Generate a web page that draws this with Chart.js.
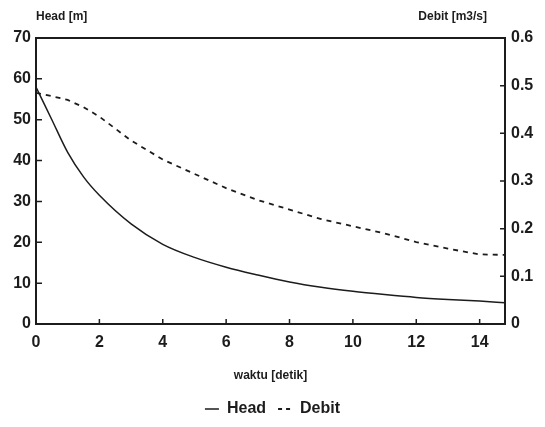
<!DOCTYPE html>
<html>
<head>
<meta charset="utf-8">
<script src="https://cdn.jsdelivr.net/npm/chart.js@4.4.1/dist/chart.umd.min.js"></script>
<style>
  html, body { margin: 0; padding: 0; background: #ffffff; }
  #wrap { width: 545px; height: 427px; }
</style>
</head>
<body>
<div id="wrap"><canvas id="c" width="545" height="427"></canvas></div>
<script>
// time (s)
const waktu = [0, 0.5, 1, 1.5, 2, 3, 4, 5, 6, 7, 8, 9, 10, 11, 12, 13, 14, 14.8];
// head (m)
const head = [58, 50, 42, 36, 31.5, 24.5, 19.5, 16.3, 13.9, 12, 10.3, 9, 8, 7.2, 6.5, 6, 5.6, 5.2];
// discharge (m3/s)
const debit = [0.485, 0.478, 0.47, 0.455, 0.435, 0.385, 0.345, 0.315, 0.285, 0.26, 0.24, 0.22, 0.205, 0.19, 0.172, 0.158, 0.146, 0.145];

const xTicks = [0, 2, 4, 6, 8, 10, 12, 14];
const headTicks = [0, 10, 20, 30, 40, 50, 60, 70];
const debitTicks = [0, 0.1, 0.2, 0.3, 0.4, 0.5, 0.6];

const ink = '#1c1c1c';
const family = '"Liberation Sans", Arial, sans-serif';
const tickFont = { family, size: 16, weight: 'bold' };

const headPts = waktu.map((t, i) => ({ x: t, y: head[i] }));
const debitPts = waktu.map((t, i) => ({ x: t, y: debit[i] }));

// frame, inward tick marks and the two axis captions at the top
const frameAndTicks = {
  id: 'frameAndTicks',
  afterDraw(chart) {
    const { ctx, chartArea: a, scales } = chart;
    ctx.save();
    ctx.strokeStyle = ink;
    ctx.lineWidth = 2;
    ctx.strokeRect(a.left, a.top, a.right - a.left, a.bottom - a.top);
    ctx.lineWidth = 1.5;
    ctx.beginPath();
    xTicks.forEach(v => {
      if (v === 0) return;
      const px = scales.x.getPixelForValue(v);
      ctx.moveTo(px, a.bottom); ctx.lineTo(px, a.bottom - 5);
    });
    headTicks.forEach(v => {
      if (v === 0 || v === 70) return;
      const py = scales.y.getPixelForValue(v);
      ctx.moveTo(a.left, py); ctx.lineTo(a.left + 6, py);
    });
    debitTicks.forEach(v => {
      if (v === 0 || v === 0.6) return;
      const py = scales.y1.getPixelForValue(v);
      ctx.moveTo(a.right, py); ctx.lineTo(a.right - 5, py);
    });
    ctx.stroke();

    ctx.fillStyle = ink;
    ctx.font = 'bold 12px ' + family;
    ctx.textBaseline = 'middle';
    ctx.textAlign = 'left';
    ctx.fillText('Head [m]', a.left, 17);
    ctx.textAlign = 'right';
    ctx.fillText('Debit [m3/s]', a.right - 18, 17);
    ctx.restore();
  }
};

new Chart(document.getElementById('c'), {
  type: 'line',
  data: {
    datasets: [
      {
        label: 'Head',
        data: headPts,
        yAxisID: 'y',
        borderColor: ink,
        backgroundColor: 'rgba(0,0,0,0)',
        borderWidth: 1.5,
        pointRadius: 0,
        tension: 0.4,
        cubicInterpolationMode: 'monotone',
        fill: false
      },
      {
        label: 'Debit',
        data: debitPts,
        yAxisID: 'y1',
        borderColor: ink,
        backgroundColor: 'rgba(0,0,0,0)',
        borderWidth: 1.8,
        borderDash: [5, 5],
        pointRadius: 0,
        tension: 0,
        fill: false
      }
    ]
  },
  options: {
    responsive: false,
    animation: false,
    layout: { padding: { top: 38, left: 0, right: 0, bottom: 0 } },
    plugins: {
      tooltip: { enabled: false },
      legend: {
        position: 'bottom',
        labels: {
          color: ink,
          font: { family, size: 16, weight: 'bold' },
          boxWidth: 14,
          boxHeight: 0,
          padding: 12,
          // the legend sample is a zero-height box; a 4/4 dash over 14px
          // keeps the two short dashes aligned on both stroked edges
          generateLabels(chart) {
            const items = Chart.defaults.plugins.legend.labels.generateLabels(chart);
            items.forEach(it => {
              if (it.lineDash && it.lineDash.length) it.lineDash = [4, 4];
            });
            return items;
          }
        }
      }
    },
    scales: {
      x: {
        type: 'linear',
        min: 0,
        max: 14.8,
        grid: { display: false, drawTicks: false },
        border: { display: false },
        afterBuildTicks: s => { s.ticks = xTicks.map(v => ({ value: v })); },
        afterFit: s => { s.height = 65; },
        ticks: { color: ink, font: tickFont, padding: 9, maxRotation: 0 },
        title: {
          display: true,
          text: 'waktu [detik]',
          color: ink,
          font: { family, size: 12, weight: 'bold' },
          padding: { top: 4, bottom: 6 }
        }
      },
      y: {
        position: 'left',
        min: 0,
        max: 70,
        grid: { display: false, drawTicks: false },
        border: { display: false },
        afterBuildTicks: s => { s.ticks = headTicks.map(v => ({ value: v })); },
        afterFit: s => { s.width = 36; },
        ticks: { color: ink, font: tickFont, padding: 5 }
      },
      y1: {
        position: 'right',
        min: 0,
        max: 0.6,
        grid: { display: false, drawTicks: false },
        border: { display: false },
        afterBuildTicks: s => { s.ticks = debitTicks.map(v => ({ value: v })); },
        afterFit: s => { s.width = 40; },
        ticks: {
          color: ink,
          font: tickFont,
          padding: 6,
          callback: v => (v === 0 ? '0' : v.toFixed(1))
        }
      }
    }
  },
  plugins: [frameAndTicks]
});
</script>
</body>
</html>
